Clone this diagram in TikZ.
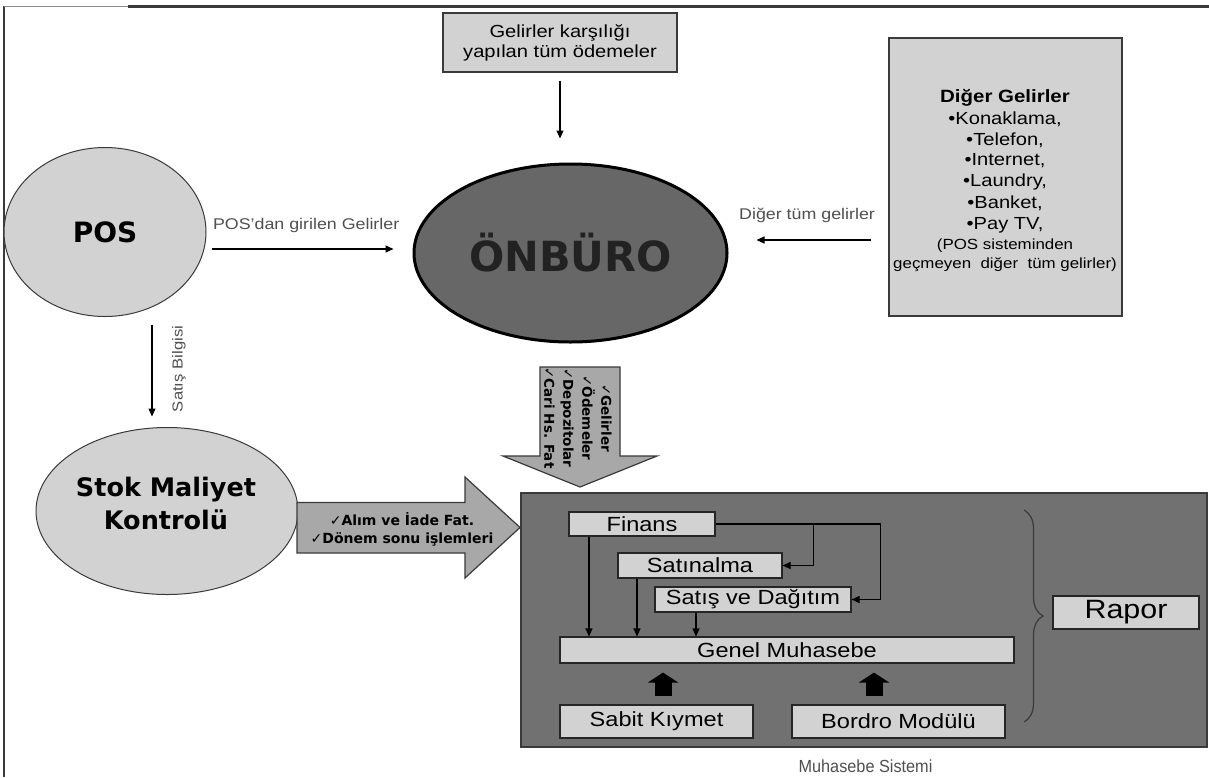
\documentclass[tikz,border=0pt]{standalone}
\usepackage{fontspec}
\setmainfont{Liberation Sans}[FakeStretch=1.15]
\newfontfamily\dvs{DejaVu Sans}
\newfontfamily\narrowf{Liberation Sans}[FakeStretch=0.93]
\usetikzlibrary{shapes.geometric,arrows.meta,decorations.pathreplacing}
\definecolor{lightg}{HTML}{D2D2D2}
\definecolor{midg}{HTML}{A8A8A8}
\definecolor{darkg}{HTML}{717171}
\definecolor{onbg}{HTML}{676767}
\definecolor{edgec}{HTML}{3A3A3A}
\definecolor{labg}{HTML}{505050}
\definecolor{onbtext}{HTML}{222222}
\begin{document}
\begin{tikzpicture}[x=1pt,y=-1pt,
  lbox/.style={draw=edgec, fill=lightg, line width=1.2pt, inner sep=0pt, align=center},
  ibox/.style={draw=black!85, fill=lightg, line width=1.1pt, inner sep=0pt,
    font=\fontsize{20.5}{22}\selectfont},
  arr/.style={-{Triangle[length=8pt,width=7pt]}, line width=1.1pt, black},
  lab/.style={inner sep=0pt, text=labg, font=\fontsize{15.5}{18}\selectfont},
  boxtxt/.style={inner sep=0pt, font=\fontsize{17.5}{20}\selectfont},
  smalltxt/.style={inner sep=0pt, font=\fontsize{14.7}{18}\selectfont},
  bluntarrow/.style={fill=midg, draw=edgec, line width=1.2pt},
  arrtxt/.style={inner sep=0pt, align=center, font=\dvs\bfseries\fontsize{14}{18}\selectfont},
  thickup/.style={line width=17pt, black, -{Triangle[length=10pt,width=30pt]},
    shorten <=8pt, shorten >=9pt}
]
\useasboundingbox (0,0) rectangle (1209,777);
\fill[white] (0,0) rectangle (1209,777);

% frame
\draw[line width=1.5pt, edgec] (4,6) -- (4,777);
\draw[line width=0.8pt, black!45] (4,6.5) -- (128,6.5);
\draw[line width=3pt, edgec] (128,6) -- (1209,6);

% top box
\node[lbox, minimum width=234pt, minimum height=59pt,
  font=\fontsize{17.5}{20}\selectfont] (top) at (560,42.5)
  {Gelirler karşılığı\\yapılan tüm ödemeler};

% ellipses
\node[ellipse, draw=edgec, fill=lightg, line width=1pt, minimum width=202pt,
  minimum height=169pt, inner sep=0pt,
  font=\dvs\bfseries\fontsize{28}{30}\selectfont] (pos) at (105,232) {POS};
\node[ellipse, draw=black, line width=3pt, fill=onbg, minimum width=313pt,
  minimum height=178pt, inner sep=0pt, text=onbtext,
  font=\dvs\bfseries\fontsize{41.5}{44}\selectfont] (onb) at (570.5,253) {ÖNBÜRO};
\node[ellipse, draw=edgec, fill=lightg, line width=1pt, minimum width=262pt,
  minimum height=167pt, inner sep=0pt] (stok) at (167,511) {};
\node[inner sep=0pt, align=center, font=\dvs\bfseries\fontsize{25.5}{33}\selectfont]
  (stoktxt) at (166,503.5) {Stok Maliyet\\Kontrolü};

% other incomes box
\node[lbox, minimum width=233pt, minimum height=278pt] (diger) at (1005.5,177) {};
\node[boxtxt, font=\bfseries\fontsize{17.8}{20}\selectfont] (d0) at (1005,98) {Diğer Gelirler};
\node[boxtxt] (d1) at (1005,119) {•Konaklama,};
\node[boxtxt] (d2) at (1005,140) {•Telefon,};
\node[boxtxt] (d3) at (1005,161) {•Internet,};
\node[boxtxt] (d4) at (1005,182) {•Laundry,};
\node[boxtxt] (d5) at (1005,203) {•Banket,};
\node[boxtxt] (d6) at (1005,225) {•Pay TV,};
\node[smalltxt] (d7) at (1005,246) {(POS sisteminden};
\node[smalltxt] (d8) at (1005,265) {geçmeyen~ diğer~ tüm gelirler)};

% arrows around ONBURO
\draw[arr, shorten <=8pt, shorten >=24pt] (top.south) -- (top.south |- onb.north);
\draw[arr] ([shift={(5,17)}]pos.east) -- ([shift={(-19,-4)}]onb.west)
  node[lab, pos=0.52, yshift=24pt] {POS’dan girilen Gelirler};
\draw[arr] ([shift={(-17,63)}]diger.west) -- ([shift={(28,-13)}]onb.east)
  node[lab, pos=0.56, yshift=25pt] {Diğer tüm gelirler};
\draw[arr] ([shift={(47,7.5)}]pos.south) -- ([shift={(-15,-10.5)}]stok.north);
\node[lab, rotate=90, font=\fontsize{14.5}{16}\selectfont] (sb) at (179,369) {Satış Bilgisi};

% block arrows
\draw[bluntarrow] (297,502.5) -- (465,502.5) -- (465,477) -- (520,527.5) -- (465,578)
  -- (465,553) -- (297,553) -- cycle;
\node[arrtxt] (rtxt) at (402,529) {{\dvs\mdseries ✓}Alım ve İade Fat.\\{\dvs\mdseries ✓}Dönem sonu işlemleri};
\draw[bluntarrow] (540,367) -- (620,367) -- (620,456) -- (657,456) -- (580,487)
  -- (503,456) -- (540,456) -- cycle;
\node[arrtxt, rotate=-90, font=\dvs\bfseries\fontsize{13.5}{19}\selectfont] (dtxt) at (578,418)
  {{\dvs\mdseries ✓}Gelirler\\{\dvs\mdseries ✓}Ödemeler\\{\dvs\mdseries ✓}Depozitolar\\{\dvs\mdseries ✓}Cari Hs. Fat};

% accounting system
\node[draw=edgec, fill=darkg, line width=1.5pt, minimum width=686pt,
  minimum height=254pt, inner sep=0pt] (ms) at (864,620) {};
\node[inner sep=0pt, text=labg, font=\narrowf\fontsize{17.5}{20}\selectfont]
  (mslab) at ([shift={(1.5,18)}]ms.south) {Muhasebe Sistemi};

\node[ibox, minimum width=146pt, minimum height=24pt] (fin) at (642,524) {Finans};
\node[ibox, minimum width=164pt, minimum height=25pt] (sat) at (700,565.5) {Satınalma};
\node[ibox, minimum width=196pt, minimum height=25pt] (sd) at (753,599.5) {Satış ve Dağıtım};
\node[ibox, minimum width=454pt, minimum height=26pt] (gm) at (787,650) {Genel Muhasebe};
\node[ibox, minimum width=193pt, minimum height=33pt] (sk) at (656.5,721.5) {Sabit Kıymet};
\node[ibox, minimum width=213pt, minimum height=33pt] (bm) at (898.5,721.5) {Bordro Modülü};
\node[ibox, minimum width=146pt, minimum height=33pt,
  font=\fontsize{26.5}{28}\selectfont] (rap) at (1126,612.5) {Rapor};

\draw[arr] (fin.east) -| ([xshift=31pt]sat.east) -- (sat.east);
\draw[arr] (fin.east) -| ([xshift=29pt]sd.east) -- (sd.east);
\draw[arr] ([xshift=-53pt]fin.south) -- ([xshift=-53pt]fin.south |- gm.north);
\draw[arr] ([xshift=-63pt]sat.south) -- ([xshift=-63pt]sat.south |- gm.north);
\draw[arr] ([xshift=-57pt]sd.south) -- ([xshift=-57pt]sd.south |- gm.north);

\coordinate (ua) at (663,0);
\coordinate (ub) at (874,0);
\draw[thickup] (sk.north -| ua) -- (gm.south -| ua);
\draw[thickup] (bm.north -| ub) -- (gm.south -| ub);

\draw[edgec, line width=1.2pt, decorate, decoration={brace, amplitude=19pt}]
  (1024,510) -- (1024,722);
\end{tikzpicture}
\end{document}
